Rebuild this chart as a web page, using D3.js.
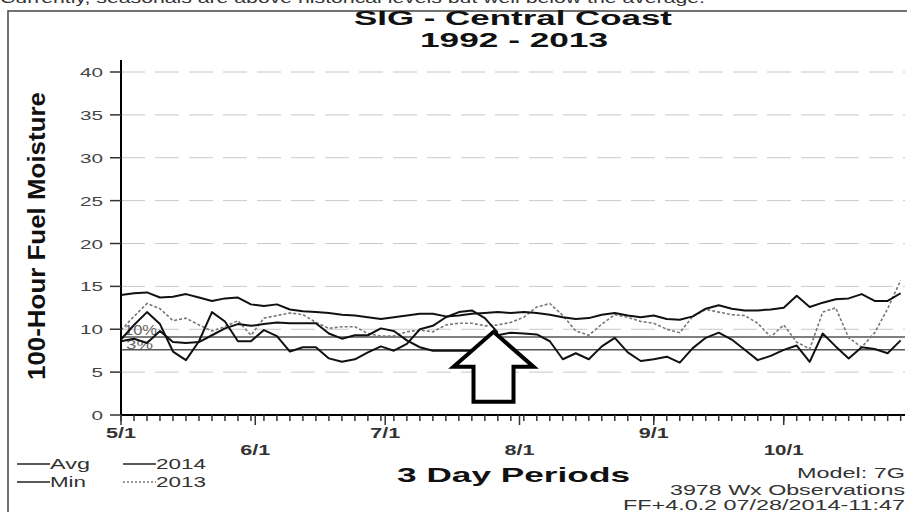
<!DOCTYPE html>
<html>
<head>
<meta charset="utf-8">
<script src="https://cdn.jsdelivr.net/npm/d3@7"></script>
<style>
  body { margin: 0; background: #fff; }
  svg { display: block; font-family: Arial, "Liberation Sans", sans-serif; }
</style>
</head>
<body>
<div id="chart"></div>
<script>
// 100-hour fuel moisture, SIG Central Coast, one value per 3 day period starting 5/1

const avgValues = [14.0, 14.2, 14.3, 13.7, 13.8, 14.1, 13.7, 13.3, 13.6, 13.7,
    12.9, 12.7, 12.9, 12.3, 12.1, 12.0, 11.9, 11.7, 11.6, 11.4,
    11.2, 11.4, 11.6, 11.8, 11.8, 11.5, 11.6, 11.8, 11.9, 12.0,
    11.9, 12.0, 11.9, 11.7, 11.4, 11.2, 11.3, 11.7, 11.9, 11.6,
    11.4, 11.6, 11.2, 11.1, 11.5, 12.4, 12.8, 12.4, 12.2, 12.2,
    12.3, 12.5, 13.9, 12.6, 13.1, 13.5, 13.6, 14.1, 13.3, 13.3, 14.2];

const minValues = [8.6, 8.9, 8.4, 9.8, 8.5, 8.4, 8.5, 9.3, 10.1, 10.6,
    10.4, 10.6, 10.8, 10.7, 10.7, 10.7, 9.5, 8.9, 9.3, 9.3,
    10.1, 9.8, 8.7, 7.9, 7.5, 7.5, 7.5, 7.5, 8.3, 9.3,
    9.6, 9.5, 9.4, 8.6, 6.5, 7.2, 6.5, 8.0, 9.0, 7.3,
    6.3, 6.5, 6.8, 6.1, 7.8, 9.0, 9.6, 8.8, 7.6, 6.4,
    6.9, 7.6, 8.1, 6.2, 9.5, 8.0, 6.6, 7.9, 7.7, 7.2, 8.7];

// 2014 only runs up to the end of July
const values2014 = [8.8, 10.5, 12.0, 10.6, 7.4, 6.4, 8.6, 12.0, 10.9, 8.6,
    8.6, 9.9, 9.2, 7.4, 7.9, 7.9, 6.6, 6.2, 6.5, 7.3,
    8.0, 7.5, 8.3, 10.0, 10.4, 11.4, 12.0, 12.2, 11.3, 9.6];

const values2013 = [9.9, 11.5, 13.0, 12.4, 11.0, 11.3, 10.5, 9.8, 10.3, 11.0,
    9.3, 11.3, 11.6, 11.9, 11.7, 10.8, 10.1, 10.3, 10.3, 9.5,
    9.2, 9.2, 9.7, 9.9, 9.7, 10.5, 10.7, 10.7, 10.4, 10.5,
    10.8, 11.4, 12.6, 13.0, 11.6, 9.8, 9.3, 10.6, 11.7, 11.4,
    10.9, 10.7, 10.0, 9.6, 11.5, 12.3, 12.0, 11.7, 11.6, 10.7,
    9.1, 10.5, 8.5, 7.7, 12.0, 12.5, 9.0, 7.9, 9.6, 12.4, 15.7];

const percentiles = [{ label: '10%', value: 9.1 }, { label: '3%', value: 7.6 }];
const yTicks = [0, 5, 10, 15, 20, 25, 30, 35, 40];
const monthLabels = ['5/1', '6/1', '7/1', '8/1', '9/1', '10/1'];
const arrowTarget = { date: '7/26', value: 9.7 };

const width = 907, height = 512;
const startDate = new Date(2014, 4, 1);
const endDate = new Date(2014, 9, 29);
const parseMD = s => d3.timeParse('%m/%d/%Y')(s + '/2014');
const periodDate = i => d3.timeDay.offset(startDate, 3 * i);

const svg = d3.select('#chart').append('svg')
    .attr('width', width)
    .attr('height', height);

const x = d3.scaleTime().domain([startDate, endDate]).range([121, 905]);
const y = d3.scaleLinear().domain([0, 40]).range([415, 72]);

// text in this chart is drawn wide, so every label gets an explicit length
function wideText(g, o) {
    const t = g.append('text')
        .attr('x', o.x)
        .attr('y', o.y)
        .attr('text-anchor', o.anchor || 'start')
        .style('font-size', o.size + 'px')
        .style('font-weight', o.weight || 'normal')
        .style('fill', o.fill || '#222')
        .text(o.text);
    if (o.len) t.attr('textLength', o.len).attr('lengthAdjust', 'spacingAndGlyphs');
    if (o.transform) t.attr('transform', o.transform);
    return t;
}

// bit of the page text above the chart, cut off by the crop
wideText(svg, { x: 0, y: 3, text: 'Currently, seasonals are above historical levels but well below the average.', size: 15, len: 705, fill: '#333' });

// frame around the chart
svg.append('path')
    .attr('d', `M8,${height}V11H${width}`)
    .attr('fill', 'none')
    .attr('stroke', '#444')
    .attr('stroke-width', 1.5);

// titles
wideText(svg, { x: 513, y: 25, text: 'SIG - Central Coast', size: 20, weight: 'bold', anchor: 'middle', len: 318, fill: '#111' });
wideText(svg, { x: 514, y: 47, text: '1992 - 2013', size: 20, weight: 'bold', anchor: 'middle', len: 188, fill: '#111' });

// dashed grid
svg.append('g')
    .selectAll('line')
    .data(yTicks.filter(d => d > 0))
    .enter()
    .append('line')
    .attr('x1', x.range()[0])
    .attr('x2', x.range()[1])
    .attr('y1', d => y(d))
    .attr('y2', d => y(d))
    .attr('stroke', '#c8c8c8')
    .attr('stroke-width', 1)
    .attr('stroke-dasharray', '24,10');

// percentile lines
svg.append('g')
    .selectAll('line')
    .data(percentiles)
    .enter()
    .append('line')
    .attr('x1', x.range()[0])
    .attr('x2', x.range()[1])
    .attr('y1', d => y(d.value))
    .attr('y2', d => y(d.value))
    .attr('stroke', '#555')
    .attr('stroke-width', 1.5);

wideText(svg, { x: 124, y: y(percentiles[0].value) - 2, text: percentiles[0].label, size: 15, len: 33, fill: '#666' });
wideText(svg, { x: 126, y: y(percentiles[1].value) - 0.5, text: percentiles[1].label, size: 13, len: 27, fill: '#666' });

// series
const line = d3.line()
    .x((d, i) => x(periodDate(i)))
    .y(d => y(d));

svg.append('path').datum(values2013)
    .attr('d', line)
    .attr('fill', 'none')
    .attr('stroke', '#777')
    .attr('stroke-width', 1.6)
    .attr('stroke-dasharray', '3,2');

[avgValues, minValues, values2014].forEach(vals => {
    svg.append('path').datum(vals)
        .attr('d', line)
        .attr('fill', 'none')
        .attr('stroke', '#111')
        .attr('stroke-width', 2)
        .attr('stroke-linejoin', 'round');
});

// arrow pointing at the current date
const tipX = x(parseMD(arrowTarget.date));
const tipY = y(arrowTarget.value);
const arrowPts = [[0, 0], [40, 35], [20, 35], [20, 70], [-20, 70], [-20, 35], [-40, 35]];
svg.append('polygon')
    .attr('points', arrowPts.map(p => [tipX + p[0], tipY + p[1]].join(',')).join(' '))
    .attr('fill', '#fff')
    .attr('stroke', '#000')
    .attr('stroke-width', 4)
    .attr('stroke-linejoin', 'miter');

// y axis
svg.append('line')
    .attr('x1', x.range()[0]).attr('x2', x.range()[0])
    .attr('y1', y(0)).attr('y2', 60)
    .attr('stroke', '#000').attr('stroke-width', 2);

const yAxis = svg.append('g');
yAxis.selectAll('line')
    .data(yTicks)
    .enter()
    .append('line')
    .attr('x1', 110).attr('x2', x.range()[0])
    .attr('y1', d => y(d)).attr('y2', d => y(d))
    .attr('stroke', '#333').attr('stroke-width', 1.5);
yTicks.forEach(d => {
    wideText(yAxis, { x: 103, y: y(d) + 5, text: d, size: 13, anchor: 'end', len: String(d).length * 11.5, fill: '#444' });
});

wideText(svg, {
    x: 0, y: 0, text: '100-Hour Fuel Moisture', size: 23, weight: 'bold', anchor: 'middle', len: 288,
    transform: 'translate(45,236) rotate(-90)', fill: '#111'
});

// x axis
svg.append('line')
    .attr('x1', x.range()[0]).attr('x2', x.range()[1])
    .attr('y1', y(0)).attr('y2', y(0))
    .attr('stroke', '#000').attr('stroke-width', 2);

const minorTicks = d3.range(0, 61).map(periodDate);
svg.append('g')
    .selectAll('line')
    .data(minorTicks)
    .enter()
    .append('line')
    .attr('x1', d => x(d)).attr('x2', d => x(d))
    .attr('y1', y(0)).attr('y2', y(0) + 6)
    .attr('stroke', '#333').attr('stroke-width', 1.5);

const months = monthLabels.map(parseMD);
svg.append('g')
    .selectAll('line')
    .data(months)
    .enter()
    .append('line')
    .attr('x1', d => x(d)).attr('x2', d => x(d))
    .attr('y1', y(0)).attr('y2', y(0) + 10)
    .attr('stroke', '#333').attr('stroke-width', 1.5);

monthLabels.forEach((lbl, i) => {
    wideText(svg, {
        x: x(months[i]), y: i % 2 === 0 ? 438 : 455, text: lbl, size: 15, weight: 'bold',
        anchor: 'middle', len: lbl.length * 10, fill: '#333'
    });
});

wideText(svg, { x: 397, y: 482, text: '3 Day Periods', size: 21, weight: 'bold', len: 233, fill: '#111' });

// legend
const legend = [
    { label: 'Avg', lx: 17, ty: 469, dash: null, tlen: 40 },
    { label: 'Min', lx: 17, ty: 487, dash: null, tlen: 36 },
    { label: '2014', lx: 123, ty: 469, dash: null, tlen: 50 },
    { label: '2013', lx: 123, ty: 487, dash: '2,2', tlen: 50 }
];
legend.forEach(d => {
    svg.append('line')
        .attr('x1', d.lx).attr('x2', d.lx + 33)
        .attr('y1', d.ty - 5).attr('y2', d.ty - 5)
        .attr('stroke', d.dash ? '#777' : '#222')
        .attr('stroke-width', 1.5)
        .attr('stroke-dasharray', d.dash);
    wideText(svg, { x: d.lx + 33, y: d.ty, text: d.label, size: 15, len: d.tlen, fill: '#333' });
});

// model info, bottom right
wideText(svg, { x: 905, y: 478, text: 'Model: 7G', size: 14, anchor: 'end', len: 108, fill: '#333' });
wideText(svg, { x: 905, y: 495, text: '3978 Wx Observations', size: 14, anchor: 'end', len: 235, fill: '#333' });
wideText(svg, { x: 905, y: 510, text: 'FF+4.0.2 07/28/2014-11:47', size: 14, anchor: 'end', len: 282, fill: '#333' });
</script>
</body>
</html>
